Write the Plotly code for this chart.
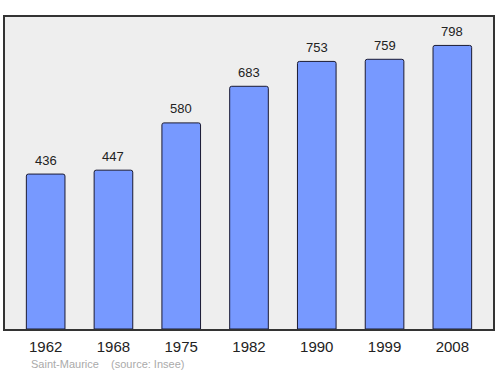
import plotly.graph_objects as go

years = ["1962", "1968", "1975", "1982", "1990", "1999", "2008"]
population = [436, 447, 580, 683, 753, 759, 798]

fig = go.Figure()
fig.add_trace(go.Bar(
    x=years, y=population, width=0.57,
    marker=dict(color="#7799ff", line=dict(color="#1a1a33", width=1), cornerradius=2),
    hoverinfo="skip",
))
for i, v in enumerate(population):
    fig.add_annotation(x=i, y=v, text=str(v), showarrow=False, yshift=14,
                       xref="x", yref="y",
                       font=dict(family="Liberation Sans, Arial", size=13, color="#222"))

fig.add_annotation(xref="paper", yref="paper", x=0.05, y=-0.112, xanchor="left", yanchor="middle",
                   text="Saint-Maurice &nbsp;&nbsp; (source: Insee)", showarrow=False,
                   font=dict(family="Liberation Sans, Arial", size=11, color="#aaaaaa"))

fig.update_layout(
    width=500, height=374,
    margin=dict(l=5, r=5, t=17, b=45),
    paper_bgcolor="white", plot_bgcolor="#eeeeee",
    showlegend=False,
    xaxis=dict(type="category", range=[-0.6, 6.6], showline=True, mirror=True, linecolor="#333", linewidth=1.5,
               ticks="", tickfont=dict(family="Liberation Sans, Arial", size=15, color="#222"),
               ticklabelstandoff=3, showgrid=False, fixedrange=True),
    yaxis=dict(range=[0, 878], showline=True, mirror=True, linecolor="#333", linewidth=1.5,
               showticklabels=False, ticks="", showgrid=False, zeroline=False, fixedrange=True),
)
fig.write_html("out.html")
